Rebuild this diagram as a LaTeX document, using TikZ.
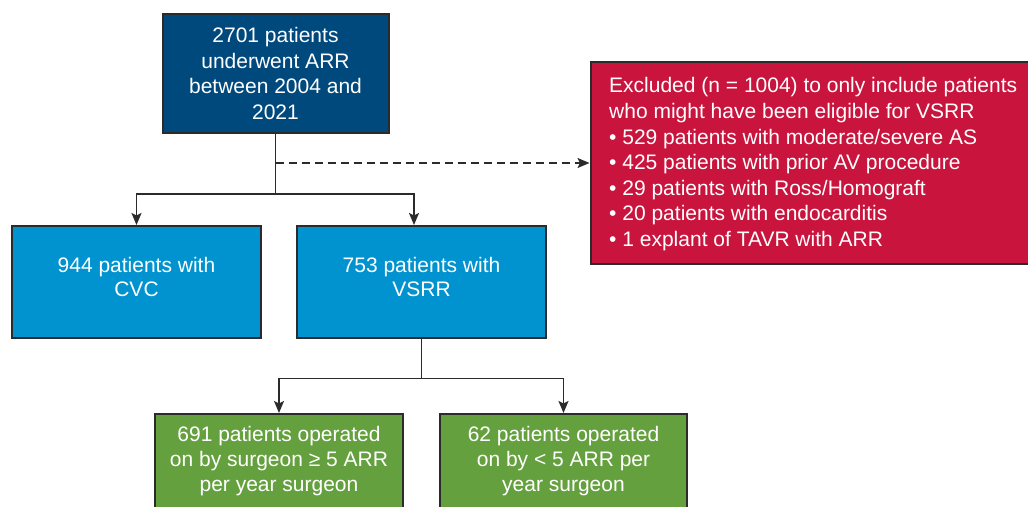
\documentclass[tikz,border=0pt]{standalone}
\usepackage{fontspec}
\setmainfont{Liberation Sans}
\usetikzlibrary{arrows.meta,calc}
\definecolor{topblue}{HTML}{00497D}
\definecolor{exred}{HTML}{C9143D}
\definecolor{midblue}{HTML}{0093CF}
\definecolor{grn}{HTML}{65A03F}
\definecolor{edge}{HTML}{2B2B2B}
\begin{document}
\begin{tikzpicture}[x=1pt,y=-1pt,
  box/.style={draw=edge, line width=2pt, inner sep=0pt},
  txt/.style={text=white, align=center, inner sep=0pt, font=\fontsize{21}{#1}\selectfont},
  txt/.default=25.7,
  conn/.style={draw=edge, line width=1.8pt},
  arr/.style={-{Stealth[length=12pt,width=10pt,inset=2.5pt]}},
  dashconn/.style={dash pattern=on 8pt off 5pt}]
\useasboundingbox (0,0) rectangle (1028,506);
\clip (0,0) rectangle (1028,506);
% boxes
\node[box, fill=topblue, minimum width=226, minimum height=119] (top) at (275.5,73.5) {};
\node[box, fill=exred, anchor=west, minimum width=470, minimum height=202.5] (excl) at (589.5,163) {};
\node[box, fill=midblue, minimum width=249, minimum height=112] (cvc) at (136.5,282) {};
\node[box, fill=midblue, minimum width=249, minimum height=112] (vsrr) at (421.5,282) {};
\node[box, fill=grn, minimum width=248, minimum height=100] (hi) at (279,464) {};
\node[box, fill=grn, minimum width=247, minimum height=100] (lo) at (563.5,464) {};
% texts
\node[txt] (topt) at (275.5,73.5) {2701 patients\\underwent ARR\\between 2004 and\\2021};
\node[txt=25.6, align=left, anchor=west] (exclt) at (609,164.35)
  {Excluded (n = 1004) to only include patients\\
   who might have been eligible for VSRR\\
   • 529 patients with moderate/severe AS\\
   • 425 patients with prior AV procedure\\
   • 29 patients with Ross/Homograft\\
   • 20 patients with endocarditis\\
   • 1 explant of TAVR with ARR};
\node[txt=24.5] (cvct) at (136.5,276.75) {944 patients with\\CVC};
\node[txt=24.5] (vsrrt) at (421.5,276.75) {753 patients with\\VSRR};
\node[txt=25] (hit) at (279,461.25) {691 patients operated\\on by surgeon ≥ 5 ARR\\per year surgeon};
\node[txt=25] (lot) at (563.5,461.25) {62 patients operated\\on by < 5 ARR per\\year surgeon};
% connectors
\draw[conn] (top.south) -- ++(0,60) coordinate (j1);
\draw[conn,arr] (j1) -| (cvc.north);
\draw[conn,arr] (j1) -| ([xshift=-7.5pt]vsrr.north);
\coordinate (j0) at (top.south |- excl.west);
\draw[conn,dashconn,arr] (j0) -- (excl.west);
\draw[conn] (vsrr.south) -- ++(0,39.5) coordinate (j2);
\draw[conn,arr] (j2) -| (hi.north);
\draw[conn,arr] (j2) -| (lo.north);
\end{tikzpicture}
\end{document}
